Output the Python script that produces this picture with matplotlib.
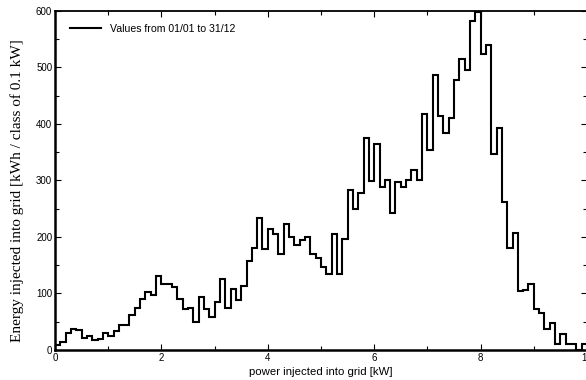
import numpy as np
import matplotlib.pyplot as plt
from matplotlib.ticker import MultipleLocator

# energy per 0.1 kW class, classes 0.0-0.1 ... 9.9-10.0 kW
edges_kw = np.arange(0, 10.01, 0.1)
energy = [
    8, 15, 30, 38, 35, 21, 25, 17, 20, 30,
    25, 33, 45, 45, 62, 75, 90, 103, 97, 131,
    117, 116, 112, 90, 72, 74, 49, 94, 72, 59,
    85, 126, 75, 107, 88, 114, 158, 180, 234, 178,
    214, 205, 169, 222, 200, 186, 195, 199, 169, 163,
    146, 134, 205, 134, 196, 283, 249, 277, 375, 298,
    364, 289, 300, 242, 297, 289, 300, 318, 300, 418,
    354, 487, 414, 383, 411, 477, 514, 496, 582, 598,
    524, 539, 346, 392, 262, 180, 207, 104, 106, 117,
    72, 65, 37, 48, 10, 29, 10, 10, 0, 10,
]
legend_label = "Values from 01/01 to 31/12"

plt.rcParams['font.family'] = ['Liberation Sans', 'DejaVu Sans']

fig = plt.figure(figsize=(5.86, 3.80), dpi=100)
ax = fig.add_axes([55 / 586, 30 / 380, 532 / 586, 339.3 / 380])

ax.stairs(energy, edges_kw, baseline=0, color='black', lw=1.5,
          label=legend_label)

ax.set_xlim(0, 10)
ax.set_ylim(0, 600)
ax.xaxis.set_major_locator(MultipleLocator(2))
ax.xaxis.set_minor_locator(MultipleLocator(1))
ax.yaxis.set_major_locator(MultipleLocator(100))
ax.yaxis.set_minor_locator(MultipleLocator(50))
ax.tick_params(which='both', direction='in', top=True, right=True,
               labelsize=7, pad=2, width=0.8)
ax.tick_params(which='major', length=4)
ax.tick_params(which='minor', length=3)
for side in ['left', 'bottom']:
    ax.spines[side].set_linewidth(1.8)
for side in ['top', 'right']:
    ax.spines[side].set_linewidth(1.3)

ax.set_xlabel("power injected into grid [kW]", fontsize=8.2, labelpad=3)
ax.set_ylabel("Energy injected into grid [kWh / class of 0.1 kW]",
              family=['Liberation Serif'], fontsize=11)
ax.yaxis.set_label_coords(-0.058, 0.47)

ax.legend(loc='upper left', frameon=False, fontsize=7.6, handlelength=3.0,
          handletextpad=0.8, bbox_to_anchor=(0.01, 0.99))

fig.savefig("out.png", dpi=100)
